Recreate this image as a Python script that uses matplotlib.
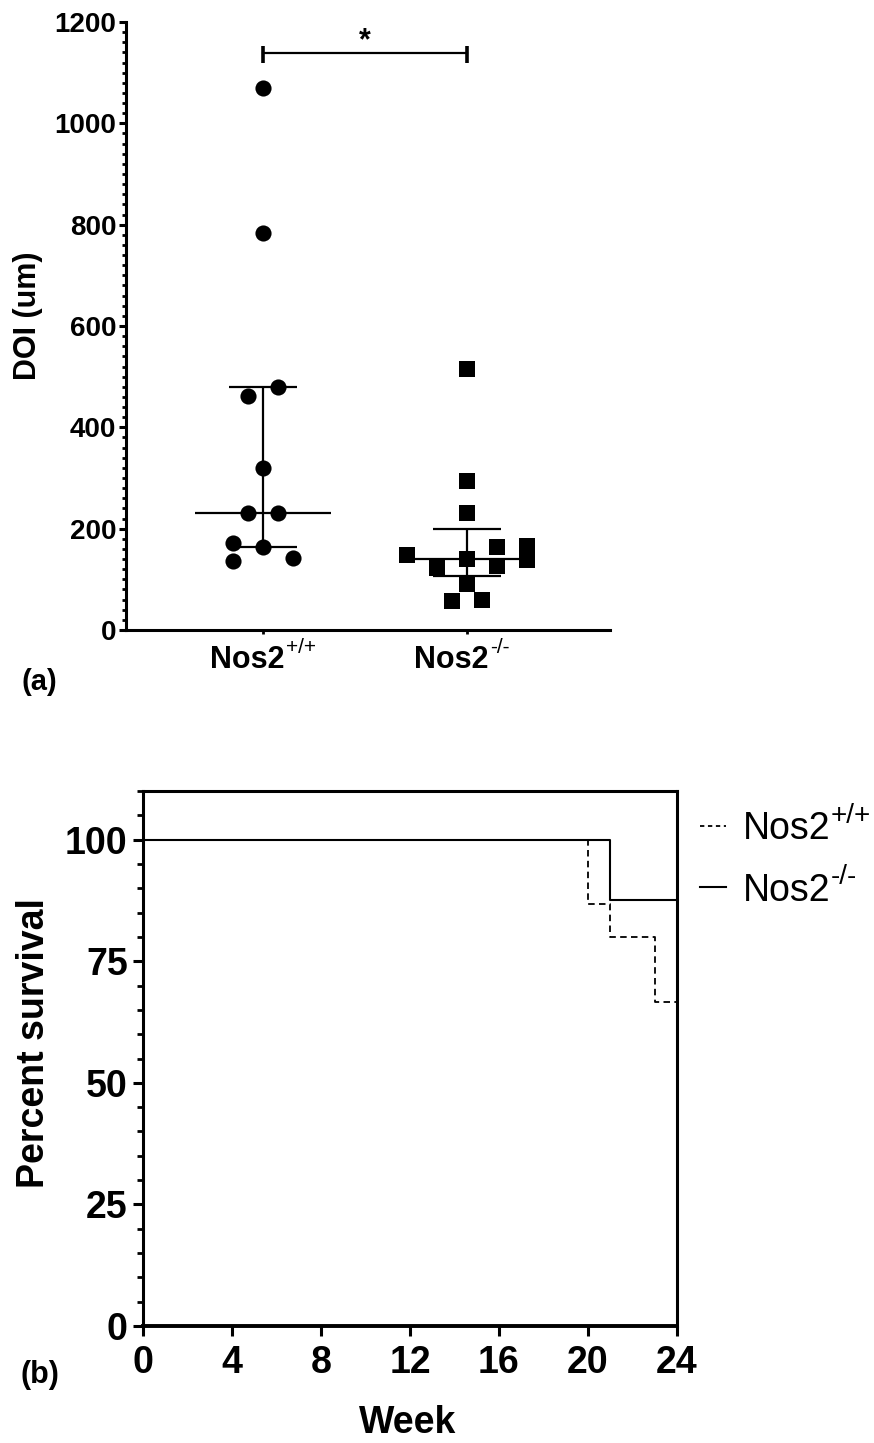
import numpy as np
import matplotlib
matplotlib.use('Agg')
import matplotlib.pyplot as plt
from matplotlib.ticker import MultipleLocator
from matplotlib.lines import Line2D
from matplotlib.text import Annotation
from matplotlib.transforms import ScaledTranslation

plt.rcParams['font.family'] = ['Liberation Sans', 'DejaVu Sans']
plt.rcParams['font.weight'] = 'bold'

# ---------------- data ----------------
group_names = ['Nos2', 'Nos2']
group_sups = ['+/+', '-/-']
wt_doi = [1070, 783, 480, 462, 320, 231, 231, 172, 164, 136, 142]
ko_doi = [515, 294, 231, 148, 140, 164, 166, 138, 126, 122, 91, 57, 59]
doi_ticks = [0, 200, 400, 600, 800, 1000, 1200]
sig_text = '*'

wt_weeks = [0, 20, 21, 23, 24]
wt_surv = [100, 86.67, 80.0, 66.67, 66.67]
ko_weeks = [0, 21, 24]
ko_surv = [100, 87.5, 87.5]
week_ticks = [0, 4, 8, 12, 16, 20, 24]
surv_ticks = [0, 25, 50, 75, 100]
legend_names = ['Nos2', 'Nos2']
legend_sups = ['+/+', '-/-']

# layout only: swarm column index for each point (same order as values)
wt_cols = [0, 0, 1, -1, 0, -1, 1, -2, 0, -2, 2]
ko_cols = [0, 0, 0, -4, 0, 2, 4, 4, 2, -2, 0, -1, 1]

W, H = 874, 1443
fig = plt.figure(figsize=(W / 100, H / 100), dpi=100)

def fx(px):
    return px / W

def fy(py):
    return 1 - py / H

# ---------------- panel (a) ----------------
ax1 = fig.add_axes([fx(126), fy(630), (610 - 126) / W, (630 - 22) / H])
step = 0.0735
for i, (vals, cols, mk, s) in enumerate([(wt_doi, wt_cols, 'o', 135),
                                         (ko_doi, ko_cols, 's', 120)]):
    vals = np.array(vals, float)
    xs = i + np.array(cols) * step
    ax1.scatter(xs, vals, marker=mk, s=s, color='black', linewidths=0,
                zorder=3, clip_on=False)
    med = np.median(vals)
    q1, q3 = np.percentile(vals, [25, 75], method='weibull')
    ax1.hlines(med, i - 0.333, i + 0.333, color='black', lw=1.6, zorder=2)
    ax1.vlines(i, q1, q3, color='black', lw=1.6, zorder=2)
    ax1.hlines([q1, q3], i - 0.167, i + 0.167, color='black', lw=1.6, zorder=2)

# significance bar
ax1.plot([0, 1], [1138, 1138], color='black', lw=1.6, clip_on=False)
ax1.vlines([0, 1], 1119, 1153, color='black', lw=2.6, clip_on=False)
ax1.text(0.5, 1146, sig_text, ha='center', va='baseline', fontsize=22,
         fontweight='bold')

ax1.set_xlim(-0.672, 1.70)
ax1.set_ylim(0, 1200)
ax1.spines['top'].set_visible(False)
ax1.spines['right'].set_visible(False)
ax1.spines['left'].set_linewidth(2.2)
ax1.spines['bottom'].set_linewidth(2.2)
ax1.set_yticks(doi_ticks)
ax1.yaxis.set_minor_locator(MultipleLocator(20))
ax1.set_xticks([0, 1])
ax1.tick_params(axis='y', which='major', length=5, width=2.2, pad=2,
                labelsize=20)
ax1.tick_params(axis='y', which='minor', length=3, width=2.0)
ax1.tick_params(axis='x', which='major', length=3, width=2.0, pad=8)
ax1.set_xticklabels(group_names, fontsize=22, fontweight='bold')

shift = ScaledTranslation(-16 / 100, 0, fig.dpi_scale_trans)
for lbl, sup in zip(ax1.get_xticklabels(), group_sups):
    lbl.set_transform(lbl.get_transform() + shift)
    ax1.annotate(sup, xy=(1, 1), xycoords=lbl, xytext=(1.5, 5),
                 textcoords='offset points', ha='left', va='top',
                 fontsize=15, fontweight='normal', annotation_clip=False)

fig.text(fx(28), fy(316), 'DOI (um)', rotation=90, ha='center', va='center',
         fontsize=22, fontweight='bold')
fig.text(fx(39), fy(682), '(a)', ha='center', va='center', fontsize=21,
         fontweight='bold')

# ---------------- panel (b) ----------------
ax2 = fig.add_axes([fx(143), fy(1326), (677 - 143) / W, (1326 - 791) / H])
ax2.step(ko_weeks, ko_surv, where='post', color='black', lw=1.5)
ax2.step(wt_weeks, wt_surv, where='post', color='black', lw=1.3,
         dashes=(3.6, 2.4))
ax2.set_xlim(0, 24)
ax2.set_ylim(0, 110)
ax2.set_xticks(week_ticks)
ax2.set_yticks(surv_ticks)
ax2.yaxis.set_minor_locator(MultipleLocator(5))
for sp in ax2.spines.values():
    sp.set_linewidth(2.2)
ax2.spines['bottom'].set_linewidth(2.8)
ax2.tick_params(axis='both', which='major', length=7, width=2.2,
                labelsize=27)
ax2.tick_params(axis='y', which='major', pad=4)
ax2.tick_params(axis='x', which='major', pad=7)
ax2.tick_params(axis='y', which='minor', length=4, width=2.0)

fig.text(fx(34), fy(1043), 'Percent survival', rotation=90, ha='center',
         va='center', fontsize=27, fontweight='bold')
fig.text(fx(408), fy(1433), 'Week', ha='center', va='baseline', fontsize=27,
         fontweight='bold')
fig.text(fx(40), fy(1375), '(b)', ha='center', va='center', fontsize=22,
         fontweight='bold')

h_wt = Line2D([], [], color='black', lw=1.3, dashes=(2.4, 2.0))
h_ko = Line2D([], [], color='black', lw=1.5)
leg = fig.legend([h_wt, h_ko], legend_names, loc='upper left',
                 bbox_to_anchor=(fx(700), fy(811)), frameon=False,
                 prop={'size': 27, 'weight': 'normal'},
                 handlelength=0.7, handletextpad=0.45, labelspacing=0.68,
                 borderpad=0, borderaxespad=0)
for t, sup in zip(leg.get_texts(), legend_sups):
    ann = Annotation(sup, xy=(1, 1), xycoords=t, xytext=(0, 6),
                     textcoords='offset points', ha='left', va='top',
                     fontsize=20, fontweight='normal', zorder=10)
    fig.add_artist(ann)

fig.savefig('out.png', dpi=100)
